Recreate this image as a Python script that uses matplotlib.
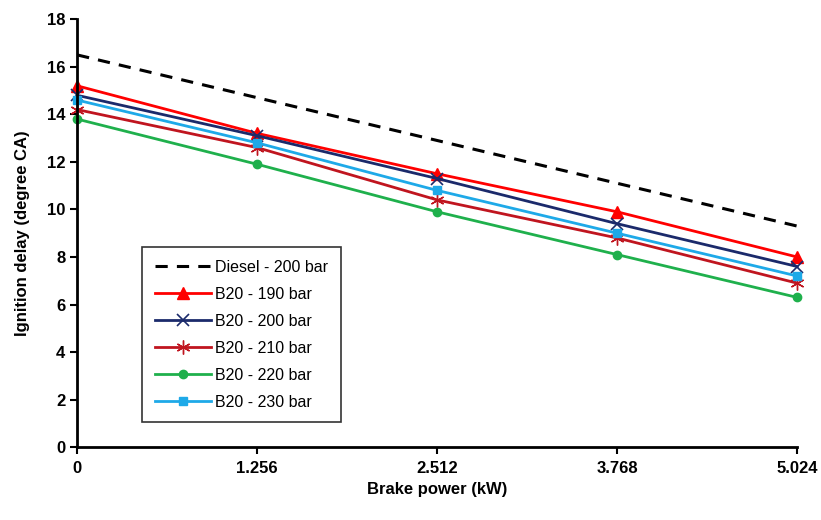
import numpy as np
import matplotlib
matplotlib.use("Agg")
import matplotlib.pyplot as plt

plt.rcParams['font.family'] = ['Liberation Sans', 'DejaVu Sans']

brake_power = [0, 1.256, 2.512, 3.768, 5.024]
tick_labels = ['0', '1.256', '2.512', '3.768', '5.024']

diesel_200 = [16.5, 14.7, 12.9, 11.1, 9.3]
b20_190 = [15.2, 13.2, 11.5, 9.9, 8.0]
b20_200 = [14.8, 13.1, 11.3, 9.4, 7.6]
b20_210 = [14.2, 12.6, 10.4, 8.8, 6.9]
b20_220 = [13.8, 11.9, 9.9, 8.1, 6.3]
b20_230 = [14.6, 12.8, 10.8, 9.0, 7.2]

fig = plt.figure(figsize=(8.21, 5.2), dpi=100)
ax = fig.add_axes([0.094, 0.140, 0.877, 0.823])

ax.plot(brake_power, diesel_200, '--', color='black', lw=2.2, dashes=(4, 3), label='Diesel - 200 bar')
ax.plot(brake_power, b20_190, '-', color='#ff0000', lw=2, marker='^', ms=8, label='B20 - 190 bar', clip_on=False)
ax.plot(brake_power, b20_200, '-', color='#1b2a6b', lw=2, marker='x', ms=8, mew=1.2, label='B20 - 200 bar', clip_on=False)
ax.plot(brake_power, b20_210, '-', color='#c0151f', lw=2, marker=(6, 2, 0), ms=10, mew=1.0, label='B20 - 210 bar', clip_on=False)
ax.plot(brake_power, b20_220, '-', color='#1fb04c', lw=2, marker='o', ms=6, label='B20 - 220 bar', clip_on=False)
ax.plot(brake_power, b20_230, '-', color='#1ea9e8', lw=2, marker='s', ms=6, label='B20 - 230 bar', clip_on=False)

ax.set_xlim(0, 5.024)
ax.set_ylim(0, 18)
ax.set_xticks(brake_power)
ax.set_xticklabels(tick_labels)
ax.set_yticks(np.arange(0, 19, 2))
for s in ['top', 'right']:
    ax.spines[s].set_visible(False)
for s in ['left', 'bottom']:
    ax.spines[s].set_linewidth(2)
ax.tick_params(direction='out', width=1.5, length=5, labelsize=12)
for lab in ax.get_xticklabels() + ax.get_yticklabels():
    lab.set_fontweight('bold')
ax.tick_params(axis='x', pad=5)

ax.set_xlabel('Brake power (kW)', fontsize=12, fontweight='bold', labelpad=4)
ax.set_ylabel('Ignition delay (degree CA)', fontsize=12, fontweight='bold', labelpad=12)

leg = ax.legend(loc='lower left', bbox_to_anchor=(0.09, 0.058), fontsize=11.5,
                frameon=True, fancybox=False, edgecolor='black', borderpad=0.8,
                borderaxespad=0, labelspacing=0.75, handlelength=3.5,
                handletextpad=0.3)
leg.get_frame().set_linewidth(1.2)

fig.savefig('out.png', dpi=100)
